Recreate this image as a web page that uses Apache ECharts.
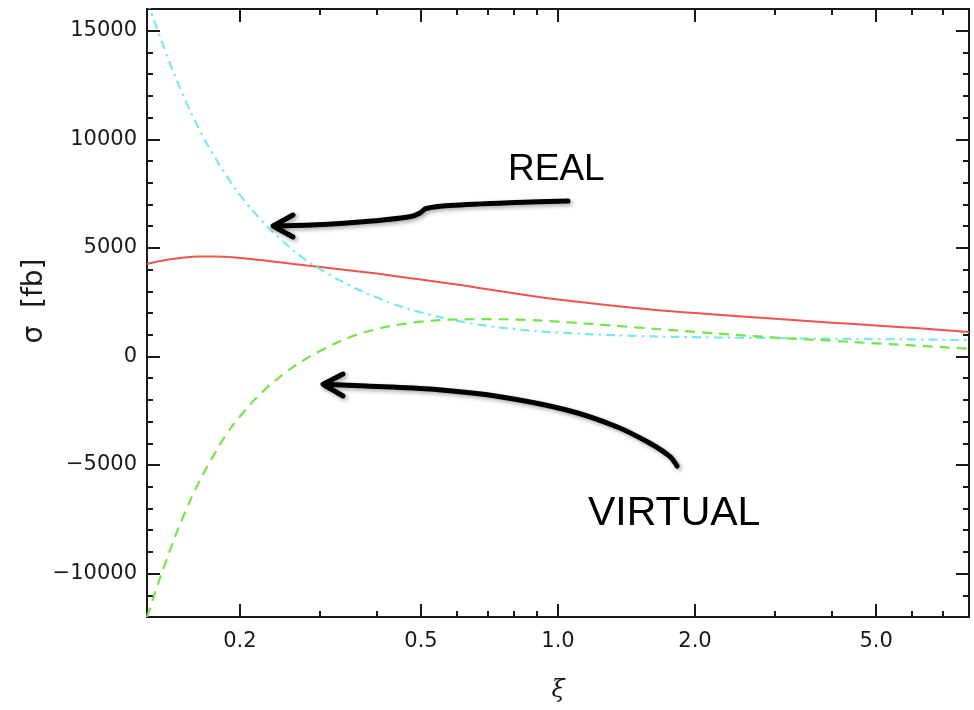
<!DOCTYPE html>
<html>
<head>
<meta charset="utf-8">
<script src="https://cdn.jsdelivr.net/npm/echarts@6/dist/echarts.min.js"></script>
<style>
  html, body { margin: 0; padding: 0; background: #ffffff; }
  #main { width: 974px; height: 710px; }
</style>
</head>
<body>
<div id="main"></div>
<script>
// ξ sample points (denser where the curves bend)
const xi = [0.125, 0.1375, 0.15, 0.1625, 0.175, 0.1875, 0.2, 0.225, 0.25, 0.275, 0.3, 0.35, 0.4, 0.45, 0.5, 0.6, 0.7, 0.8, 1.0, 1.5, 2, 3, 4, 5, 6, 8];

// σ [fb] — total (solid red)
const sigmaTotal = [4260, 4440, 4550, 4600, 4600, 4580, 4535, 4425, 4310, 4210, 4120, 3960, 3815, 3670, 3540, 3310, 3090, 2910, 2625, 2220, 2000, 1730, 1555, 1425, 1320, 1120];
// σ [fb] — real emission (dash-dot cyan)
const sigmaReal = [16400, 14000, 12050, 10500, 9280, 8280, 7440, 6180, 5260, 4540, 4020, 3255, 2710, 2310, 2030, 1640, 1410, 1260, 1100, 945, 885, 842, 817, 800, 785, 750];
// σ [fb] — virtual correction (dashed green)
const sigmaVirtual = [-12000, -9450, -7400, -5800, -4570, -3540, -2770, -1600, -800, -200, 250, 895, 1260, 1475, 1600, 1700, 1715, 1700, 1600, 1330, 1135, 870, 720, 600, 510, 355];

// axis ticks
const xMajorTicks = [0.2, 0.5, 1, 2, 5];
const xMinorTicks = [0.3, 0.4, 0.6, 0.7, 0.8, 0.9, 3, 4, 6, 7];
const yMajorTicks = [-10000, -5000, 0, 5000, 10000, 15000];

const X_MIN = 0.125, X_MAX = 8;
const Y_MIN = -12000, Y_MAX = 16000;

const INK = '#1a1a1a';
const labelFont = { fontFamily: 'DejaVu Sans, sans-serif', fontSize: 21, color: INK };
const frameLine = { show: true, onZero: false, lineStyle: { color: INK, width: 2 } };

function xAxisDef(position, ticks, len, withLabels) {
  return {
    type: 'log', logBase: 10, min: X_MIN, max: X_MAX, position: position,
    axisLine: frameLine,
    splitLine: { show: false },
    axisTick: { show: true, inside: true, length: len, customValues: ticks, lineStyle: { color: INK, width: 2 } },
    axisLabel: withLabels
      ? Object.assign({ show: true, margin: 14, customValues: ticks, formatter: v => Number(v).toFixed(1) }, labelFont)
      : { show: false },
    name: withLabels ? 'ξ' : '',
    nameLocation: 'middle', nameGap: 62, nameMoveOverlap: false,
    nameTextStyle: { fontFamily: 'DejaVu Serif, serif', fontStyle: 'italic', fontSize: 24, color: INK }
  };
}

function yAxisDef(position, ticks, len, withLabels) {
  const d = {
    type: 'value', min: Y_MIN, max: Y_MAX, position: position,
    axisLine: frameLine,
    splitLine: { show: false },
    axisTick: { show: true, inside: true, length: len, lineStyle: { color: INK, width: 2 } },
    axisLabel: withLabels
      ? Object.assign({ show: true, margin: 10, customValues: ticks,
          formatter: v => (v < 0 ? '\u2212' + Math.abs(v) : String(v)) }, labelFont)
      : { show: false },
    name: withLabels ? 'σ  [fb]' : '',
    nameLocation: 'middle', nameGap: 98, nameRotate: 90, nameMoveOverlap: false,
    nameTextStyle: { fontFamily: 'DejaVu Sans, sans-serif', fontSize: 28, color: INK, padding: [0, 0, 0, 24] }
  };
  if (ticks) d.axisTick.customValues = ticks; else d.interval = 1000;
  return d;
}

const chart = echarts.init(document.getElementById('main'), null, { renderer: 'canvas' });

function pairs(ys) { return xi.map((x, i) => [x, ys[i]]); }

const arrowStyle = {
  stroke: '#000', lineWidth: 5, fill: null, lineCap: 'round', lineJoin: 'round',
  shadowBlur: 4, shadowOffsetX: 2, shadowOffsetY: 2, shadowColor: 'rgba(0,0,0,0.35)'
};

const curve = { type: 'line', xAxisIndex: 0, yAxisIndex: 0, smooth: 0.5, showSymbol: false, clip: true };

chart.setOption({
  animation: false,
  backgroundColor: '#ffffff',
  grid: { left: 147, right: 5, top: 9, bottom: 93, containLabel: false },
  xAxis: [
    xAxisDef('bottom', xMajorTicks, 13, true),
    xAxisDef('bottom', xMinorTicks, 6, false),
    xAxisDef('top', xMajorTicks, 13, false),
    xAxisDef('top', xMinorTicks, 6, false)
  ],
  yAxis: [
    yAxisDef('left', yMajorTicks, 13, true),
    yAxisDef('left', null, 6, false),
    yAxisDef('right', yMajorTicks, 13, false),
    yAxisDef('right', null, 6, false)
  ],
  series: [
    Object.assign({ name: 'total', data: pairs(sigmaTotal),
      lineStyle: { color: '#f2524e', width: 2, type: 'solid' } }, curve),
    Object.assign({ name: 'real', data: pairs(sigmaReal),
      lineStyle: { color: '#78e9f1', width: 2.2, type: [9, 5, 2.5, 5] } }, curve),
    Object.assign({ name: 'virtual', data: pairs(sigmaVirtual),
      lineStyle: { color: '#72e646', width: 2.2, type: [10, 7] } }, curve)
  ],
  graphic: [
    { type: 'text', left: 508, top: 151,
      style: { text: 'REAL', fontFamily: 'Liberation Sans, Arial, sans-serif', fontSize: 37, fill: '#000' } },
    { type: 'text', left: 588, top: 493,
      style: { text: 'VIRTUAL', fontFamily: 'Liberation Sans, Arial, sans-serif', fontSize: 41, fill: '#000' } },
    // arrow pointing at the real-emission curve
    { type: 'polyline', z: 100,
      shape: { points: [[568, 201], [516, 202.5], [450, 205.5], [426, 208.5], [420, 213], [411, 216.5], [383, 220], [350, 222.7], [316, 224.7], [274, 226]], smooth: 0.3 },
      style: arrowStyle },
    { type: 'polyline', z: 100,
      shape: { points: [[293, 215], [273, 226], [293, 237]] },
      style: arrowStyle },
    // arrow pointing at the virtual-correction curve
    { type: 'polyline', z: 100,
      shape: { points: [[677, 466], [670, 456.7], [650, 443.3], [616.7, 426.7], [566.7, 410], [500, 396.7], [433.3, 389.3], [366.7, 386], [324, 384.3]], smooth: 0.3 },
      style: arrowStyle },
    { type: 'polyline', z: 100,
      shape: { points: [[343, 374], [323, 384.3], [343, 396]] },
      style: arrowStyle }
  ]
});
</script>
</body>
</html>
